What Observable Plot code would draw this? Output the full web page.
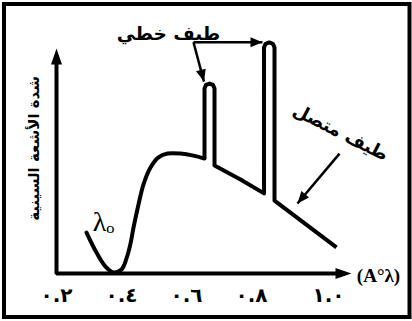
<!DOCTYPE html>
<html>
<head>
<meta charset="utf-8">
<script src="https://cdn.jsdelivr.net/npm/d3@7"></script>
<script src="https://cdn.jsdelivr.net/npm/@observablehq/plot@0.6"></script>
<style>
  html, body { margin: 0; padding: 0; background: #fff; }
  #chart svg { display: block; }
</style>
</head>
<body>
<div id="chart"></div>
<script>
// Continuous spectrum (rising part, up to first line)
const riseLambda = [0.2923, 0.3231, 0.3508, 0.3754, 0.4000, 0.4154, 0.4277, 0.4369, 0.4523, 0.4677, 0.4892, 0.5138, 0.5415, 0.5815, 0.6215, 0.6554];
const riseIntensity = [1.82, 0.93, 0.31, 0.05, 0.18, 0.67, 1.33, 2.04, 3.07, 3.96, 4.71, 5.16, 5.33, 5.33, 5.24, 5.11];

// Line spectrum peaks + falling continuum
const lineLambda = [0.6554, 0.6554, 0.6599, 0.6708, 0.6817, 0.6862, 0.6862, 0.7662, 0.8385, 0.8385, 0.8432, 0.8546, 0.8660, 0.8708, 0.8708, 1.0615];
const lineIntensity = [5.11, 8.22, 8.38, 8.44, 8.38, 8.22, 4.80, 4.18, 3.56, 10.04, 10.21, 10.27, 10.21, 10.04, 3.24, 1.16];

// Axes (L shape) and arrowheads
const axisLambda = [0.2, 0.2, 1.083];
const axisIntensity = [9.64, 0, 0];
const axisHeadLambda = [0.2, 1.1077];
const axisHeadIntensity = [10, 0];
const axisHeadAngle = [0, 90];

// Tick labels
const tickValues = [0.2, 0.4, 0.6, 0.8];
const tickLabels = ["٠.٢", "٠.٤", "٠.٦", "٠.٨"];
const lastTickValue = [1.0];
const lastTickLabel = ["١.٠"];

// Annotation arrows
const annoFromLambda = [0.6215, 0.6215, 1.0708];
const annoFromIntensity = [10.28, 10.28, 5.33];
const annoToLambda = [0.8338, 0.6538, 0.9415];
const annoToIntensity = [10.28, 8.53, 3.11];
const annoAngle = [90, 165, 220];

// Texts
const lineSpectrumText = ["طيف خطي"];
const lineSpectrumLambda = [0.5446];
const lineSpectrumIntensity = [10.62];
const contSpectrumText = ["طيف متصل"];
const contSpectrumLambda = [1.0738];
const contSpectrumIntensity = [6.27];
const lambdaZeroText = ["λₒ"];
const lambdaZeroLambda = [0.3446];
const lambdaZeroIntensity = [2.27];
const yTitleText = ["شدة الأشعة السينية"];
const yTitleLambda = [0.1323];
const yTitleIntensity = [5.56];
const xTitleText = ["(A°λ)"];
const xTitleLambda = [1.1908];
const xTitleIntensity = [-0.09];
const tickLabelIntensity = -0.98;

const bigHead = { draw(ctx) { ctx.moveTo(0, 0); ctx.lineTo(-5.5, 16); ctx.lineTo(5.5, 16); ctx.closePath(); } };
const smallHead = { draw(ctx) { ctx.moveTo(0, 0); ctx.lineTo(-5, 12); ctx.lineTo(5, 12); ctx.closePath(); } };

const idx = (a) => a.map((_, i) => i);

const chart = Plot.plot({
  width: 412,
  height: 321,
  margin: 0,
  style: { background: "#fff", overflow: "visible" },
  x: { domain: [0.2, 0.8], range: [56, 251], axis: null },
  y: { domain: [0, 10], range: [273, 48], axis: null },
  marks: [
    Plot.frame({ stroke: "black", strokeWidth: 4, insetLeft: 3.5, insetTop: 3.5, insetRight: 3, insetBottom: 4.5 }),
    Plot.line(idx(axisLambda), { x: (i) => axisLambda[i], y: (i) => axisIntensity[i], stroke: "black", strokeWidth: 4, strokeLinejoin: "miter", strokeLinecap: "butt" }),
    Plot.dot(idx(axisHeadLambda), { x: (i) => axisHeadLambda[i], y: (i) => axisHeadIntensity[i], rotate: (i) => axisHeadAngle[i], symbol: bigHead, fill: "black", stroke: "none" }),
    Plot.line(idx(riseLambda), { x: (i) => riseLambda[i], y: (i) => riseIntensity[i], curve: "catmull-rom", stroke: "black", strokeWidth: 4, strokeLinecap: "round", strokeLinejoin: "round" }),
    Plot.line(idx(lineLambda), { x: (i) => lineLambda[i], y: (i) => lineIntensity[i], stroke: "black", strokeWidth: 4, strokeLinecap: "butt", strokeLinejoin: "round" }),
    Plot.link(idx(annoFromLambda), { x1: (i) => annoFromLambda[i], y1: (i) => annoFromIntensity[i], x2: (i) => annoToLambda[i], y2: (i) => annoToIntensity[i], stroke: "black", strokeWidth: 2.5 }),
    Plot.dot(idx(annoToLambda), { x: (i) => annoToLambda[i], y: (i) => annoToIntensity[i], rotate: (i) => annoAngle[i], symbol: smallHead, fill: "black", stroke: "none" }),
    Plot.text(idx(tickValues), { x: (i) => tickValues[i], y: tickLabelIntensity, text: (i) => tickLabels[i], fontFamily: "DejaVu Sans", fontWeight: "bold", fontSize: 20, fill: "black" }),
    Plot.text(idx(lastTickValue), { x: (i) => lastTickValue[i], y: tickLabelIntensity, text: (i) => lastTickLabel[i], dx: 12, fontFamily: "DejaVu Sans", fontWeight: "bold", fontSize: 20, fill: "black" }),
    Plot.text(lineSpectrumText, { x: lineSpectrumLambda, y: lineSpectrumIntensity, text: (d) => d, fontFamily: "DejaVu Sans", fontWeight: "bold", fontSize: 18.5, fill: "black" }),
    Plot.text(contSpectrumText, { x: contSpectrumLambda, y: contSpectrumIntensity, text: (d) => d, rotate: 27, fontFamily: "DejaVu Sans", fontWeight: "bold", fontSize: 18, fill: "black" }),
    Plot.text(lambdaZeroText, { x: lambdaZeroLambda, y: lambdaZeroIntensity, text: (d) => d, fontFamily: "Liberation Serif", fontSize: 28, fill: "black" }),
    Plot.text(yTitleText, { x: yTitleLambda, y: yTitleIntensity, text: (d) => d, rotate: -90, fontFamily: "DejaVu Sans", fontWeight: "bold", fontSize: 15, fill: "black" }),
    Plot.text(xTitleText, { x: xTitleLambda, y: xTitleIntensity, text: (d) => d, fontFamily: "Liberation Serif", fontWeight: "bold", fontSize: 19, fill: "black" })
  ]
});
document.getElementById("chart").appendChild(chart);
</script>
</body>
</html>
